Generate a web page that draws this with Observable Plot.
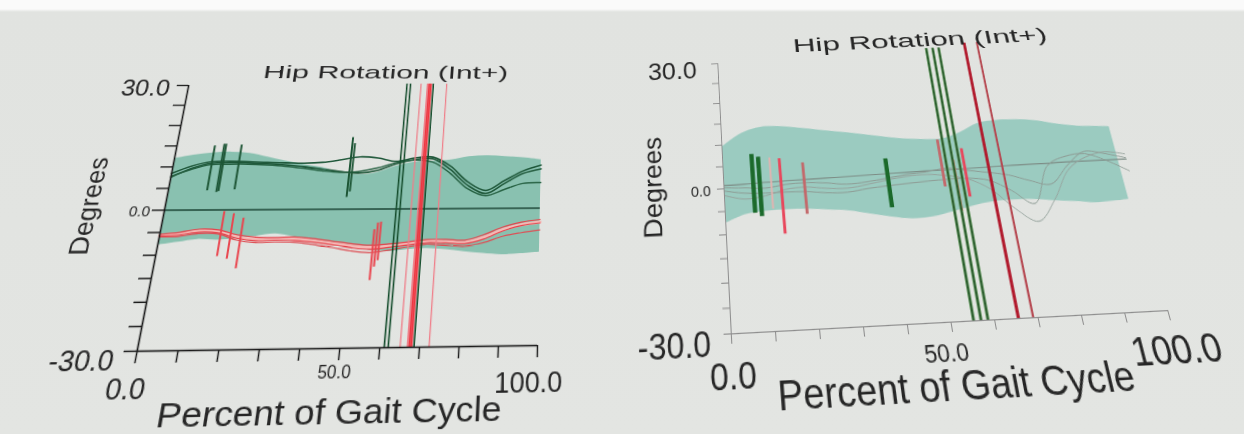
<!DOCTYPE html>
<html><head><meta charset="utf-8">
<script src="https://cdn.jsdelivr.net/npm/d3@7"></script>
<script src="https://cdn.jsdelivr.net/npm/@observablehq/plot@0.6"></script>
<style>
html,body{margin:0;padding:0;width:1244px;height:434px;overflow:hidden;}
body{background:linear-gradient(180deg,#fafafa 0,#fafafa 9px,#e1e3e0 12px,#e3e5e2 100%);}
.chart{position:absolute;left:0;top:0;width:1244px;height:434px;transform-origin:0 0;}
</style></head><body>
<div id="left" class="chart"></div><div id="right" class="chart"></div>
<script>
// ---------- shared values ----------
const pct = [0,5,10,15,20,25,30,35,40,45,50,55,60,65,70,75,80,85,90,95,100];
const yMinorTicks = [-30,-25,-20,-15,-10,-5,0,5,10,15,20,25,30];
const xMinorTicks = [0,10,20,30,40,50,60,70,80,90,100];
const yTickValues = [30, 0, -30];
const yTickLabels = ["30.0", "0.0", "-30.0"];
const xTickValues = [0, 50, 100];
const xTickLabels = ["0.0", "50.0", "100.0"];
const titleText = "Hip Rotation (Int+)";
const xTitleText = "Percent of Gait Cycle";
const yTitleText = "Degrees";

// ---------- left chart ----------
const leftBandUpper = [12,12.8,13.3,13.5,13.2,12.3,11.3,10.5,9.8,8.5,8,8.5,10,11,11.2,11.5,12.3,12.5,12.3,12,11.5];
const leftBandLower = [-7.8,-7.2,-6.6,-6.8,-6.5,-6,-5.5,-6.2,-7,-7.6,-8.2,-9.3,-9.6,-9.2,-9,-9.3,-9.8,-10.2,-10.5,-10.3,-10];
const leftGreenA = [8.5,10.2,11.2,11.3,11.2,11.0,10.9,10.8,11.0,11.6,12.3,12.0,11.2,12.0,12.2,10.0,6.2,4.2,6.5,8.8,10.2];
const leftGreenB = [7.6,9.6,10.8,11.0,10.9,10.7,10.4,10.0,9.4,8.8,8.4,9.0,10.6,11.6,11.8,9.2,5.4,3.5,5.8,8.2,9.3];
const leftGreenC = [7.8,9.4,10.5,10.6,10.6,10.4,10.1,9.6,9.0,8.6,8.8,9.6,10.9,11.5,11.0,8.3,4.6,3.0,4.4,5.8,6.0];
const leftRedA = [-5.4,-5.0,-4.3,-4.5,-5.6,-6.2,-6.3,-6.2,-6.6,-7.2,-7.8,-8.2,-7.9,-7.5,-7.0,-7.0,-7.2,-6.0,-4.3,-3.2,-2.6];
const leftRedB = [-5.8,-5.6,-5.0,-5.2,-6.4,-7.0,-6.9,-7.0,-7.4,-8.0,-8.7,-9.1,-8.7,-8.2,-7.7,-7.8,-8.0,-7.0,-5.2,-4.0,-3.4];
const leftRedC = [-6.0,-5.9,-5.3,-5.4,-6.8,-7.4,-7.3,-7.4,-7.9,-8.6,-9.4,-9.8,-9.3,-8.6,-8.0,-8.3,-8.6,-7.8,-6.4,-5.6,-5.0];
const leftRedPale = [-5.6,-5.4,-4.7,-4.9,-6.1,-6.7,-6.7,-6.7,-7.1,-7.7,-8.3,-8.7,-8.4,-7.9,-7.4,-7.5,-7.7,-6.6,-4.9,-3.8,-3.2];
const leftShortX = [10.2,12.7,13.2,17.4,47.5,48.2,15.7,18.3,21.0,55.8,56.6,57.4];
const leftShortLow = [4.4,4.0,4.2,4.6,2.7,4.0,-10.4,-11.0,-13.1,-15.9,-13.0,-11.6];
const leftShortHigh = [15.0,15.4,15.4,15.2,17.0,15.5,-0.4,-0.9,-1.9,-4.7,-3.2,-3.0];
const leftShortSide = ["R","R","R","R","R","R","L","L","L","L","L","L"];
const leftEventX = [61.1,62.1,65.1,66.9,67.4,67.9,68.6,72.4];
const leftEventSide = ["R","R","P","P","L","L","R","P"];

// ---------- right chart ----------
const rightBandX = [0,5,10,15,20,25,30,35,40,45,50,55,60,65,70,75,80,85,90,95,98];
const rightBandUpper = [9.5,12.5,13.8,13.7,13.1,12.4,11.7,11,10.2,9.5,9.1,9,10.3,12.3,12.8,12.7,12.2,11.2,10.5,10.2,10];
const rightBandLower = [-7.6,-5.9,-5.4,-5.3,-5.4,-5.8,-6.2,-7.1,-8,-8.6,-8.4,-7.5,-6.5,-5.8,-5.6,-5.7,-6.2,-6.6,-7.1,-6.9,-6.7];
const rightT0 = [0.7,0.8,1.0,1.1,1.2,1.3,1.4,1.5,1.6,1.7,1.8,1.85,1.9,2.0,2.1,2.2,2.2,2.3,2.3,2.3,2.3];
const rightT1 = [-0.5,-1.2,-1.4,-1.4,-1.5,-2.0,-2.1,-1.5,-1.1,-0.8,-0.5,-0.3,-0.3,-1.0,-3.5,-6.6,1.6,3.6,4.0,2.2,-0.4];
const rightT2 = [0.2,0,-0.3,0.3,0.5,0.2,-0.3,0,0.6,1.2,1.6,2.2,1.5,0.8,0,-1.5,-2.5,1.5,4.5,3.8,2.6];
const rightT3 = [-1.5,-2.5,-2.0,-0.8,-0.5,-1.0,-1.2,-0.6,0.2,0.8,1.0,0.5,-0.5,-3.0,-7.5,-10.5,-6.0,0.5,3.2,4.2,3.5];
const rightShortX = [7.2,8.8,11.6,14.0,19.7,40.3,54.0,57.0,59.6];
const rightShortLow = [-5.7,-6.5,-5.0,-10.5,-6.5,-6.0,-2.0,-7.5,-4.5];
const rightShortHigh = [7.5,6.8,6.5,6.2,5.0,5.0,8.8,4.0,6.5];
const rightShortSide = ["R","R","P","L","B","R","B","L","L"];
const rightEventX = [55.2,56.9,58.5,65.5,68.9];
const rightEventSide = ["R","R","R","L","B"];

// ---------- helpers ----------
const rows = (xs, ys) => xs.map((x, i) => ({x, y: ys[i]}));
const band = (xs, lo, hi) => xs.map((x, i) => ({x, lo: lo[i], hi: hi[i]}));
const segs = (xs, lo, hi, side) => xs.map((x, i) => ({x, lo: lo[i], hi: hi[i], side: side[i]}));
const line = (xs, ys, stroke, w) => Plot.line(rows(xs, ys), {x: "x", y: "y", stroke, strokeWidth: w, curve: "catmull-rom"});
const fmt = v => yTickLabels[yTickValues.indexOf(v)];
const fmtX = v => xTickLabels[xTickValues.indexOf(v)];
function label(x, y, text, o) {
  return Plot.text([text], {x, y, text: d => d, fill: "#262626", fontFamily: "Liberation Sans, Arial, sans-serif", ...o});
}

function homography(src, dst) {
  const A = [], b = [];
  for (let i = 0; i < 4; i++) {
    const [x, y] = src[i], [u, v] = dst[i];
    A.push([x, y, 1, 0, 0, 0, -u * x, -u * y]); b.push(u);
    A.push([0, 0, 0, x, y, 1, -v * x, -v * y]); b.push(v);
  }
  const n = 8;
  for (let c = 0; c < n; c++) {
    let p = c;
    for (let r = c + 1; r < n; r++) if (Math.abs(A[r][c]) > Math.abs(A[p][c])) p = r;
    [A[c], A[p]] = [A[p], A[c]]; [b[c], b[p]] = [b[p], b[c]];
    for (let r = 0; r < n; r++) {
      if (r === c) continue;
      const f = A[r][c] / A[c][c];
      for (let k = c; k < n; k++) A[r][k] -= f * A[c][k];
      b[r] -= f * b[c];
    }
  }
  const h = b.map((v, i) => v / A[i][i]);
  return `matrix3d(${h[0]},${h[3]},0,${h[6]},${h[1]},${h[4]},0,${h[7]},0,0,1,0,${h[2]},${h[5]},0,1)`;
}
function stretch(svg, content, len) {
  svg.querySelectorAll("text").forEach(t => {
    if (t.textContent === content) {
      t.setAttribute("textLength", len);
      t.setAttribute("lengthAdjust", "spacingAndGlyphs");
    }
  });
}

// ---------- left chart ----------
{
  const F = {x0: 160, x1: 540, y0: 85, y1: 350};
  const ink = "#1a1a1a";
  const short = segs(leftShortX, leftShortLow, leftShortHigh, leftShortSide);
  const ev = leftEventX.map((x, i) => ({x, side: leftEventSide[i]}));
  const svg = Plot.plot({
    width: 1244, height: 434,
    marginLeft: F.x0, marginRight: 1244 - F.x1, marginTop: F.y0, marginBottom: 434 - F.y1,
    style: {background: "transparent", fontFamily: "Liberation Sans, Arial, sans-serif"},
    x: {domain: [0, 100]}, y: {domain: [-30, 30]},
    marks: [
      Plot.areaY(band(pct, leftBandLower, leftBandUpper), {x: "x", y1: "lo", y2: "hi", fill: "#89c1b0", curve: "catmull-rom"}),
      Plot.ruleY([0], {stroke: "#1c4536", strokeWidth: 1.7}),
      line(pct, leftRedPale, "#f5b9b6", 3.2),
      line(pct, leftRedA, "#e4454d", 1.2),
      line(pct, leftRedB, "#e4454d", 1.2),
      line(pct, leftRedC, "#dd4f55", 1.2),
      line(pct, leftGreenA, "#1d5638", 1.6),
      line(pct, leftGreenB, "#1d5638", 1.6),
      line(pct, leftGreenC, "#245f40", 1.5),
      Plot.ruleX(short.filter(d => d.side === "R"), {x: "x", y1: "lo", y2: "hi", stroke: "#1d5535", strokeWidth: 2}),
      Plot.ruleX(short.filter(d => d.side === "L"), {x: "x", y1: "lo", y2: "hi", stroke: "#e9464f", strokeWidth: 2}),
      Plot.ruleX(ev.filter(d => d.side === "P"), {x: "x", y1: -30, y2: 30.5, stroke: "#ef7f8a", strokeWidth: 1.3}),
      Plot.ruleX(ev.filter(d => d.side === "L"), {x: "x", y1: -30, y2: 30.5, stroke: "#ee3540", strokeWidth: 2.2}),
      Plot.ruleX(ev.filter(d => d.side === "R"), {x: "x", y1: -30, y2: 30.5, stroke: "#134b2b", strokeWidth: 1.6}),
      Plot.axisY({ticks: yMinorTicks, tickSize: 12, tickFormat: () => "", stroke: ink, strokeWidth: 1.4, label: null}),
      Plot.axisX({ticks: xMinorTicks, tickSize: 11, tickFormat: () => "", stroke: ink, strokeWidth: 1.4, label: null}),
      Plot.ruleX([0], {stroke: ink, strokeWidth: 1.6}),
      Plot.ruleY([-30], {stroke: ink, strokeWidth: 1.6}),
      label(0, 30, fmt(30), {textAnchor: "end", dx: -19, dy: 3, fontSize: 26}),
      label(0, 0, fmt(0), {textAnchor: "end", dx: -14, dy: 1, fontSize: 15}),
      label(0, -30, fmt(-30), {textAnchor: "end", dx: -20, dy: 8, fontSize: 26}),
      label(0, -30, fmtX(0), {dx: -4, dy: 33, fontSize: 26}),
      label(50, -30, fmtX(50), {dx: -3, dy: 21, fontSize: 16}),
      label(100, -30, fmtX(100), {dx: -8, dy: 33, fontSize: 26}),
      label(49.5, -30, xTitleText, {dy: 56, fontSize: 30}),
      label(0, 1.2, yTitleText, {dx: -75, rotate: -90, fontSize: 26}),
      label(55, 30, titleText, {dy: -15, fontSize: 21})
    ]
  });
  stretch(svg, xTitleText, 318);
  stretch(svg, titleText, 265);
  const el = document.getElementById("left");
  el.appendChild(svg);
  el.style.transform = homography(
    [[F.x0, F.y0], [F.x1, F.y0], [F.x0, F.y1], [F.x1, F.y1]],
    [[188.3, 85], [542.3, 85.8], [136.7, 350.7], [537, 345]]
  );
}

// ---------- right chart ----------
{
  const F = {x0: 730, x1: 1160, y0: 63, y1: 333};
  const ink = "#8d8d8d";
  const short = segs(rightShortX, rightShortLow, rightShortHigh, rightShortSide);
  const ev = rightEventX.map((x, i) => ({x, side: rightEventSide[i]}));
  const svg = Plot.plot({
    width: 1244, height: 434,
    marginLeft: F.x0, marginRight: 1244 - F.x1, marginTop: F.y0, marginBottom: 434 - F.y1,
    style: {background: "transparent", fontFamily: "Liberation Sans, Arial, sans-serif"},
    x: {domain: [0, 100]}, y: {domain: [-30, 30]},
    marks: [
      Plot.areaY(band(rightBandX, rightBandLower, rightBandUpper), {x: "x", y1: "lo", y2: "hi", fill: "#9bcbc0", curve: "catmull-rom"}),
      line(pct, rightT0, "#7d8d86", 1.1),
      line(pct, rightT1, "#8e9c95", 1),
      line(pct, rightT2, "#8e9c95", 1),
      line(pct, rightT3, "#97a49e", 1),
      Plot.ruleX(short.filter(d => d.side === "P"), {x: "x", y1: "lo", y2: "hi", stroke: "#e3b3b0", strokeWidth: 2}),
      Plot.ruleX(short.filter(d => d.side === "B"), {x: "x", y1: "lo", y2: "hi", stroke: "#c3696b", strokeWidth: 3}),
      Plot.ruleX(short.filter(d => d.side === "L"), {x: "x", y1: "lo", y2: "hi", stroke: "#e8475c", strokeWidth: 3}),
      Plot.ruleX(short.filter(d => d.side === "R"), {x: "x", y1: "lo", y2: "hi", stroke: "#1b6a2b", strokeWidth: 4.5}),
      Plot.ruleX(ev.filter(d => d.side === "R"), {x: "x", y1: -30, y2: 31.5, stroke: "#5b9257", strokeWidth: 3.2}),
      Plot.ruleX(ev.filter(d => d.side === "R"), {x: "x", y1: -30, y2: 31.5, stroke: "#1d4a22", strokeWidth: 1.2}),
      Plot.ruleX(ev.filter(d => d.side === "L"), {x: "x", y1: -30, y2: 32.5, stroke: "#b11a2d", strokeWidth: 3.2}),
      Plot.ruleX(ev.filter(d => d.side === "B"), {x: "x", y1: -30, y2: 32.5, stroke: "#b5464f", strokeWidth: 2.2}),
      Plot.axisY({ticks: yMinorTicks, tickSize: 7, tickFormat: () => "", stroke: ink, strokeWidth: 1, label: null}),
      Plot.axisX({ticks: xMinorTicks, tickSize: 9, tickFormat: () => "", stroke: ink, strokeWidth: 1, label: null}),
      Plot.ruleX([0], {stroke: ink, strokeWidth: 1}),
      Plot.ruleY([-30], {stroke: ink, strokeWidth: 1}),
      label(0, 30, fmt(30), {textAnchor: "end", dx: -24, dy: 7, fontSize: 28}),
      label(0, 0, fmt(0), {textAnchor: "end", dx: -14, dy: 2, fontSize: 15}),
      label(0, -30, fmt(-30), {textAnchor: "end", dx: -20, dy: 9, fontSize: 31}),
      label(0, -30, fmtX(0), {dx: 0, dy: 36, fontSize: 32}),
      label(50, -30, fmtX(50), {dx: -9, dy: 26, fontSize: 22}),
      label(100, -30, fmtX(100), {dx: -2, dy: 34, fontSize: 35}),
      label(49, -30, xTitleText, {dy: 54, fontSize: 36}),
      label(0, 1.3, yTitleText, {dx: -74, rotate: -90, fontSize: 27}),
      label(54, 30, titleText, {dy: -17, fontSize: 22})
    ]
  });
  stretch(svg, xTitleText, 340);
  stretch(svg, titleText, 292);
  const el = document.getElementById("right");
  el.appendChild(svg);
  el.style.transform = homography(
    [[F.x0, F.y0], [F.x1, F.y0], [F.x0, F.y1], [F.x1, F.y1]],
    [[717.3, 63.3], [1094.5, 46.3], [730.7, 333.3], [1167, 310]]
  );
}
</script></body></html>
